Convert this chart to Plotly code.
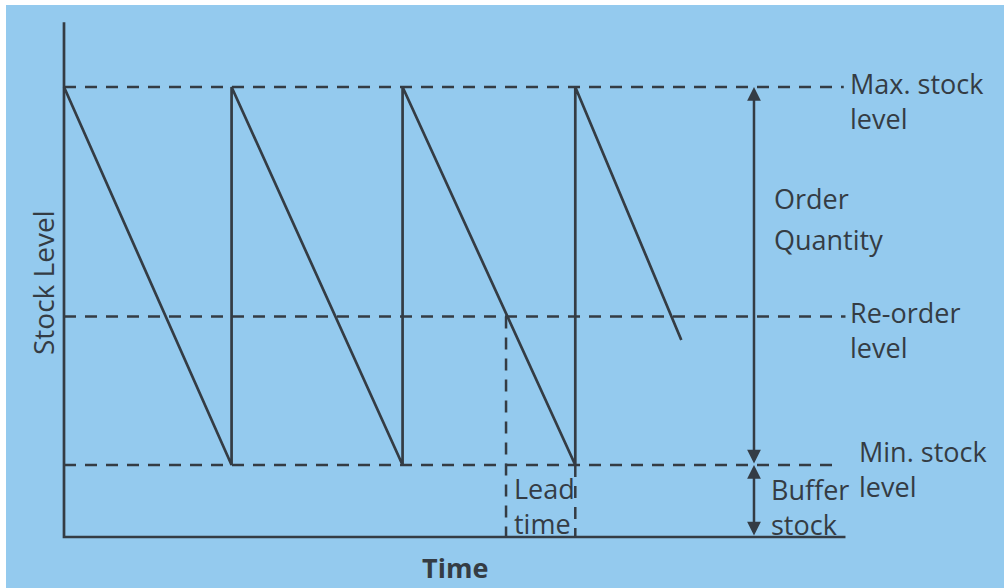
import plotly.graph_objects as go

# ---- data (time units, stock units) ----
stock_time = [0, 9.8, 9.8, 19.8, 19.8, 29.9, 29.9, 36.1]
stock_level = [100, 16, 100, 16, 100, 16, 100, 43.8]

max_level = 100
reorder_level = 49
min_level = 16

axis_time_end = 45.7
axis_level_top = 114.4
level_line_end = [45.6, 45.7, 45.4]  # max, reorder, min
reorder_time = 25.85
delivery_time = 29.9
arrow_time = 40.35

label_text = ["Max. stock<br>level", "Re-order<br>level", "Order", "Quantity",
              "Min. stock<br>level", "Buffer<br>stock", "Lead<br>time"]

INK = "#343c44"
BG = "#94caee"
FONT = "Open Sans"

KX = 17.1   # px per time unit
KY = 4.5    # px per stock unit
X0, Y0 = 64, 537  # pixel origin


def T(px):
    return (px - X0) / KX


def S(py):
    return (Y0 - py) / KY


fig = go.Figure()

fig.add_trace(go.Scatter(x=[0, 0, axis_time_end], y=[axis_level_top, 0, 0], mode="lines",
                         line=dict(color=INK, width=2.7), hoverinfo="skip"))
for lvl, end in zip([max_level, reorder_level, min_level], level_line_end):
    fig.add_trace(go.Scatter(x=[0, end], y=[lvl, lvl], mode="lines",
                             line=dict(color=INK, width=2.7, dash="12px,9px"), hoverinfo="skip"))
fig.add_trace(go.Scatter(x=[reorder_time, reorder_time], y=[reorder_level, 0], mode="lines",
                         line=dict(color=INK, width=2.5, dash="12px,9px"), hoverinfo="skip"))
fig.add_trace(go.Scatter(x=[delivery_time, delivery_time], y=[min_level, 0], mode="lines",
                         line=dict(color=INK, width=2.5, dash="12px,9px"), hoverinfo="skip"))
fig.add_trace(go.Scatter(x=stock_time, y=stock_level, mode="lines",
                         line=dict(color=INK, width=2.7), hoverinfo="skip"))

ann = []
for y0, y1 in [(max_level, min_level), (min_level, 0)]:
    ann.append(dict(x=arrow_time, y=y0, ax=arrow_time, ay=y1, xref="x", yref="y",
                    axref="x", ayref="y", text="", showarrow=True, arrowhead=2,
                    startarrowhead=2, arrowside="end+start", arrowsize=1.1,
                    startarrowsize=1.1, arrowwidth=2.5, arrowcolor=INK))

txt = dict(family=FONT, size=27, color=INK)
label_px = [(848, 101), (848, 330), (772, 198), (772, 239),
            (857, 469), (769, 507), (512, 506)]
for t, (px, py) in zip(label_text, label_px):
    ann.append(dict(x=T(px), y=S(py), text=t, xanchor="left", yanchor="middle",
                    align="left", showarrow=False, font=txt))
ann.append(dict(x=T(455), y=S(567), text="<b>Time</b>", xanchor="center", yanchor="middle",
                showarrow=False, font=txt))
ann.append(dict(x=T(43), y=S(283), text="Stock Level", textangle=-90, xanchor="center",
                yanchor="middle", showarrow=False, font=dict(family=FONT, size=28, color=INK)))

fig.update_layout(
    width=1004, height=588,
    margin=dict(l=6, t=5, r=0, b=0),
    paper_bgcolor="white", plot_bgcolor=BG,
    showlegend=False,
    xaxis=dict(range=[T(6), T(1004)], visible=False, fixedrange=True),
    yaxis=dict(range=[S(588), S(5)], visible=False, fixedrange=True),
    annotations=ann,
)
fig.write_html("out.html", config={"displayModeBar": False},
               post_script="document.body.style.margin='0';document.body.style.overflow='hidden';")
